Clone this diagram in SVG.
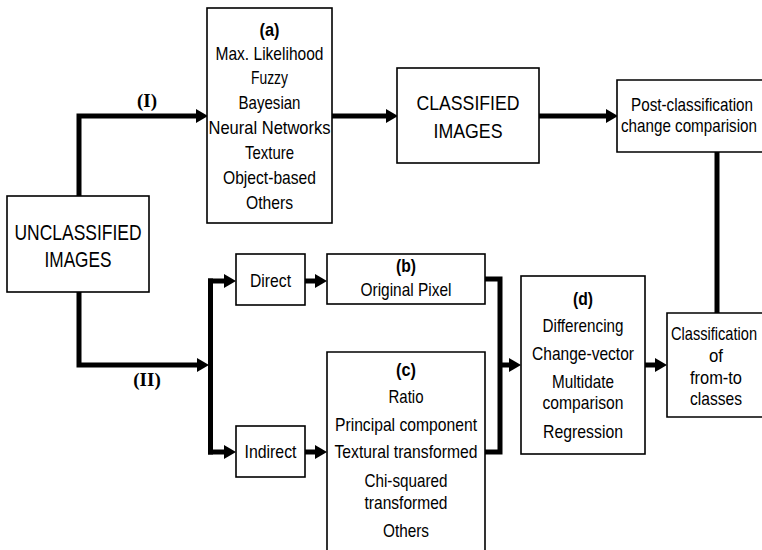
<svg xmlns="http://www.w3.org/2000/svg" width="762" height="550" viewBox="0 0 762 550">
  <style>
    .box { fill: #fff; stroke: #000; stroke-width: 1.6; }
    .t { font-family: "Liberation Sans", Arial, sans-serif; font-size: 19px; text-anchor: middle; fill: #000; }
    .big { font-size: 22px; }
    .b { font-weight: bold; }
    .lbl { font-family: "Liberation Serif", "Times New Roman", serif; font-size: 19px; font-weight: bold; text-anchor: middle; fill: #000; }
    .wire { fill: none; stroke: #000; stroke-width: 5; stroke-linejoin: miter; stroke-linecap: butt; }
  </style>
  <defs>
    <marker id="arrow" markerUnits="userSpaceOnUse" markerWidth="12" markerHeight="14" refX="0" refY="7" orient="auto" viewBox="0 0 12 14">
      <path d="M0,0 L12,7 L0,14 Z" fill="#000"/>
    </marker>
  </defs>

  <!-- connectors -->
  <g id="connectors">
    <path class="wire" d="M79,196 V116 H196" marker-end="url(#arrow)"/>
    <path class="wire" d="M332,116 H386" marker-end="url(#arrow)"/>
    <path class="wire" d="M539,116 H606" marker-end="url(#arrow)"/>
    <path class="wire" d="M717,152 V313"/>
    <path class="wire" d="M79,292 V365 H197" marker-end="url(#arrow)"/>
    <path class="wire" d="M210.5,278.5 V454.5"/>
    <path class="wire" d="M208,281 H224" marker-end="url(#arrow)"/>
    <path class="wire" d="M208,452 H224" marker-end="url(#arrow)"/>
    <path class="wire" d="M305,281 H315" marker-end="url(#arrow)"/>
    <path class="wire" d="M305,452 H315" marker-end="url(#arrow)"/>
    <path class="wire" d="M485,279 H500 V452 H485"/>
    <path class="wire" d="M500,365 H509" marker-end="url(#arrow)"/>
    <path class="wire" d="M645,365 H655" marker-end="url(#arrow)"/>
    <text class="lbl" x="147" y="107">(I)</text>
    <text class="lbl" x="147" y="386">(II)</text>
  </g>

  <g id="unclassified">
    <rect class="box" x="7" y="196" width="142" height="96"/>
    <text class="t big" x="78" y="240" textLength="127" lengthAdjust="spacingAndGlyphs">UNCLASSIFIED</text>
    <text class="t big" x="78" y="267" textLength="67" lengthAdjust="spacingAndGlyphs">IMAGES</text>
  </g>

  <g id="methods-a">
    <rect class="box" x="207" y="8" width="125" height="215"/>
    <text class="t b" x="269.5" y="36" textLength="20" lengthAdjust="spacingAndGlyphs">(a)</text>
    <text class="t" x="269.5" y="60" textLength="108" lengthAdjust="spacingAndGlyphs">Max. Likelihood</text>
    <text class="t" x="269.5" y="84" textLength="37" lengthAdjust="spacingAndGlyphs">Fuzzy</text>
    <text class="t" x="269.5" y="109" textLength="62" lengthAdjust="spacingAndGlyphs">Bayesian</text>
    <text class="t" x="269.5" y="134" textLength="122" lengthAdjust="spacingAndGlyphs">Neural Networks</text>
    <text class="t" x="269.5" y="159" textLength="49" lengthAdjust="spacingAndGlyphs">Texture</text>
    <text class="t" x="269.5" y="184" textLength="93" lengthAdjust="spacingAndGlyphs">Object-based</text>
    <text class="t" x="269.5" y="209" textLength="47" lengthAdjust="spacingAndGlyphs">Others</text>
  </g>

  <g id="classified">
    <rect class="box" x="397" y="68" width="142" height="95"/>
    <text class="t" style="font-size:21px" x="468" y="110" textLength="103" lengthAdjust="spacingAndGlyphs">CLASSIFIED</text>
    <text class="t" style="font-size:21px" x="468" y="138" textLength="69" lengthAdjust="spacingAndGlyphs">IMAGES</text>
  </g>

  <!-- right-hand boxes are open at the sheet edge (no right side drawn) -->
  <g id="post-classification">
    <path class="box" d="M762,80 H617 V152 H762"/>
    <text class="t" x="692" y="111" textLength="122" lengthAdjust="spacingAndGlyphs">Post-classification</text>
    <text class="t" x="689" y="132" textLength="136" lengthAdjust="spacingAndGlyphs">change comparision</text>
  </g>

  <g id="direct">
    <rect class="box" x="236" y="254" width="69" height="51"/>
    <text class="t" x="270.5" y="287" textLength="41" lengthAdjust="spacingAndGlyphs">Direct</text>
  </g>

  <g id="indirect">
    <rect class="box" x="236" y="426" width="69" height="51"/>
    <text class="t" x="270.5" y="458" textLength="52" lengthAdjust="spacingAndGlyphs">Indirect</text>
  </g>

  <g id="original-pixel-b">
    <rect class="box" x="327" y="254" width="158" height="50"/>
    <text class="t b" x="406" y="272" textLength="20" lengthAdjust="spacingAndGlyphs">(b)</text>
    <text class="t" x="406" y="296" textLength="91" lengthAdjust="spacingAndGlyphs">Original Pixel</text>
  </g>

  <g id="transforms-c">
    <path class="box" d="M327,550 V352 H485 V550"/>
    <text class="t b" x="406" y="376" textLength="20" lengthAdjust="spacingAndGlyphs">(c)</text>
    <text class="t" x="406" y="403" textLength="35" lengthAdjust="spacingAndGlyphs">Ratio</text>
    <text class="t" x="406" y="431" textLength="142" lengthAdjust="spacingAndGlyphs">Principal component</text>
    <text class="t" x="406" y="458" textLength="143" lengthAdjust="spacingAndGlyphs">Textural transformed</text>
    <text class="t" x="406" y="487" textLength="83" lengthAdjust="spacingAndGlyphs">Chi-squared</text>
    <text class="t" x="406" y="509" textLength="83" lengthAdjust="spacingAndGlyphs">transformed</text>
    <text class="t" x="406" y="537" textLength="46" lengthAdjust="spacingAndGlyphs">Others</text>
  </g>

  <g id="change-detection-d">
    <rect class="box" x="521" y="276" width="124" height="178"/>
    <text class="t b" x="583" y="305" textLength="20" lengthAdjust="spacingAndGlyphs">(d)</text>
    <text class="t" x="583" y="332" textLength="81" lengthAdjust="spacingAndGlyphs">Differencing</text>
    <text class="t" x="583" y="360" textLength="102" lengthAdjust="spacingAndGlyphs">Change-vector</text>
    <text class="t" x="583" y="388" textLength="62" lengthAdjust="spacingAndGlyphs">Multidate</text>
    <text class="t" x="583" y="409" textLength="81" lengthAdjust="spacingAndGlyphs">comparison</text>
    <text class="t" x="583" y="438" textLength="80" lengthAdjust="spacingAndGlyphs">Regression</text>
  </g>

  <g id="classification-from-to">
    <path class="box" d="M762,313 H667 V417 H762"/>
    <text class="t" x="714" y="340" textLength="86" lengthAdjust="spacingAndGlyphs">Classification</text>
    <text class="t" x="716" y="362" textLength="14" lengthAdjust="spacingAndGlyphs">of</text>
    <text class="t" x="716" y="384" textLength="52" lengthAdjust="spacingAndGlyphs">from-to</text>
    <text class="t" x="716" y="405" textLength="52" lengthAdjust="spacingAndGlyphs">classes</text>
  </g>
</svg>
